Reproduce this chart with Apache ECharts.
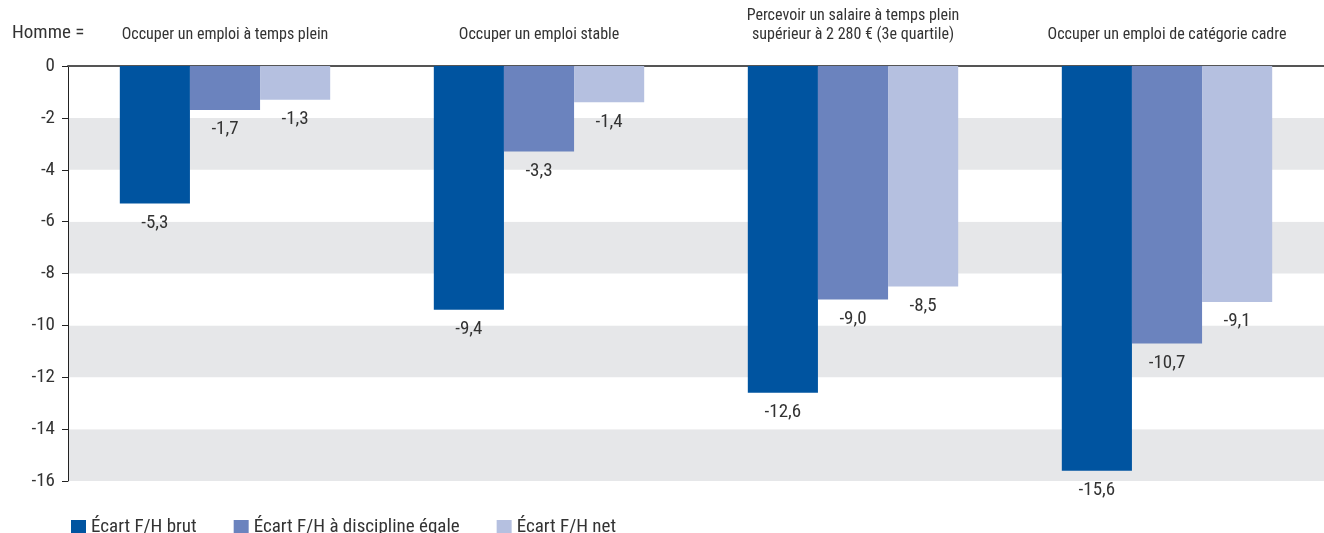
<!DOCTYPE html>
<html>
<head>
<meta charset="utf-8">
<script src="https://cdn.jsdelivr.net/npm/echarts@6/dist/echarts.min.js"></script>
<style>
  html, body { margin: 0; padding: 0; background: #fff; }
  #chart { width: 1324px; height: 533px; }
</style>
</head>
<body>
<div id="chart"></div>
<script>
const categories = [
  "Occuper un emploi à temps plein",
  "Occuper un emploi stable",
  "Percevoir un salaire à temps plein\nsupérieur à 2 280 € (3e quartile)",
  "Occuper un emploi de catégorie cadre"
];
const seriesNames = ["Écart F/H brut", "Écart F/H à discipline égale", "Écart F/H net"];
const brut = [-5.3, -9.4, -12.6, -15.6];
const discipline = [-1.7, -3.3, -9.0, -10.7];
const net = [-1.3, -1.4, -8.5, -9.1];
const colors = ["#0054a0", "#6b83be", "#b5c0e0"];

const font = "'Liberation Sans Narrow', 'Roboto Condensed', Roboto, sans-serif";

let myChart = echarts.init(document.getElementById("chart"));
let fmt = (p) => p.value.toFixed(1).replace(".", ",");

let makeSeries = (name, data, i) => ({
  name: name,
  type: "bar",
  data: data,
  barGap: "0%",
  barCategoryGap: "33%",
  itemStyle: { color: colors[i] },
  label: {
    show: true,
    position: "bottom",
    distance: 10,
    color: "#333",
    fontSize: 19,
    fontFamily: font,
    formatter: fmt,
  },
});

let option = {
  animation: false,
  textStyle: { fontFamily: font },
  title: {
    text: "Homme =",
    left: 7,
    top: 19,
    textStyle: { color: "#333", fontSize: 19, fontWeight: "normal", fontFamily: font },
  },
  legend: {
    left: 66,
    top: 513,
    itemWidth: 15,
    itemHeight: 15,
    itemGap: 37,
    icon: "rect",
    textStyle: { color: "#333", fontSize: 19, fontFamily: font },
    data: seriesNames,
  },
  grid: { left: 68, right: 0, top: 66, bottom: 52 },
  xAxis: {
    type: "category",
    position: "top",
    data: categories,
    axisLine: { show: true, lineStyle: { color: "#555", width: 2 } },
    axisTick: { show: false },
    axisLabel: {
      color: "#333",
      fontSize: 16,
      fontFamily: font,
      margin: 22,
      lineHeight: 19,
      interval: 0,
    },
  },
  yAxis: {
    type: "value",
    min: -16,
    max: 0,
    interval: 2,
    axisLine: { show: true, lineStyle: { color: "#222", width: 1 } },
    axisTick: { show: true, length: 6, lineStyle: { color: "#222" } },
    axisLabel: { color: "#333", fontSize: 19, fontFamily: font, margin: 13 },
    splitLine: { show: false },
    splitArea: { show: true, areaStyle: { color: ["#e6e7e9", "#ffffff"] } },
  },
  series: [
    makeSeries(seriesNames[0], brut, 0),
    makeSeries(seriesNames[1], discipline, 1),
    makeSeries(seriesNames[2], net, 2),
  ],
};
option && myChart.setOption(option);
</script>
</body>
</html>
